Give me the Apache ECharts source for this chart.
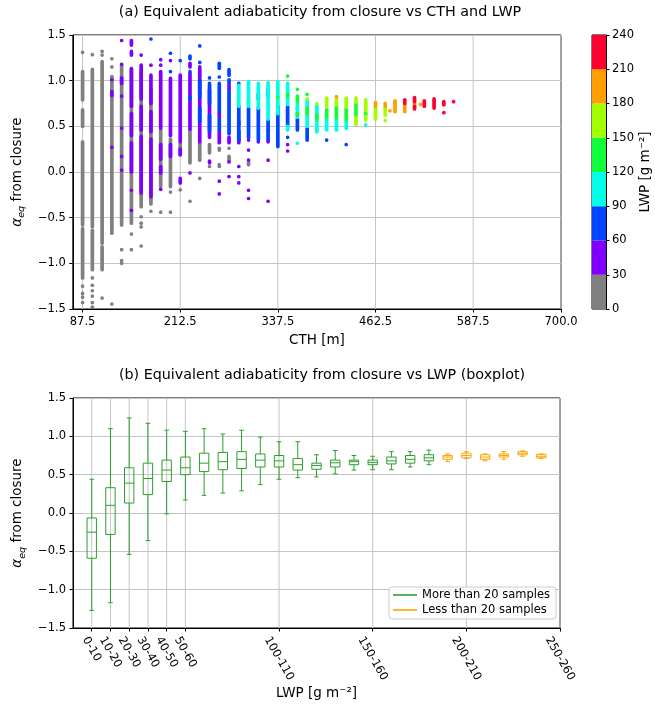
<!DOCTYPE html>
<html>
<head>
<meta charset="utf-8">
<script src="https://cdn.jsdelivr.net/npm/echarts@6/dist/echarts.min.js"></script>
<style>
html, body { margin: 0; padding: 0; background: #fff; }
#main { width: 655px; height: 710px; }
</style>
</head>
<body>
<div id="main"></div>
<script>
// ---- panel (a): colour bar edges, LWP [g m-2]
var lwpEdges = [0, 30, 60, 90, 120, 150, 180, 210, 240];
var cthTicks = [87.5, 212.5, 337.5, 462.5, 587.5, 700];
var alphaRange = [-1.5, 1.5];

// runs of overlapping dots, one array per LWP class: [CTH, alpha low, alpha high]
var lwp0to30 = [
  [87.5,1.31,1.31],[87.5,0.79,1.10],[87.5,0.50,0.68],[87.5,-0.58,0.33],[87.5,-1.16,-0.62],[87.5,-1.25,-1.25],[87.5,-1.33,-1.33],[87.5,-1.37,-1.37],[87.5,-1.43,-1.43],
  [100,1.285,1.285],[100,-0.60,1.125],[100,-1.07,-0.64],[100,-1.16,-1.16],[100,-1.24,-1.24],[100,-1.30,-1.30],[100,-1.36,-1.36],[100,-1.43,-1.43],[100,-1.48,-1.48],
  [112.5,1.32,1.32],[112.5,1.28,1.28],[112.5,-0.78,1.21],[112.5,-1.07,-0.82],[112.5,-1.38,-1.38],
  [125,1.24,1.24],[125,1.15,1.15],[125,-0.67,1.045],[125,-1.445,-1.445],
  [137.5,-0.58,1.17],[137.5,-0.85,-0.85],[137.5,-0.97,-0.97],[137.5,-1.0,-1.0],
  [150,-0.56,1.135],[150,-0.68,-0.68],[150,-0.85,-0.85],
  [162.5,-0.38,1.10],[162.5,-0.49,-0.49],[162.5,-0.56,-0.56],[162.5,-0.60,-0.60],[162.5,-0.81,-0.81],
  [175,-0.35,0.90],[175,-0.43,-0.43],
  [187.5,-0.16,0.46],[187.5,-0.44,-0.44],
  [200,-0.16,0.36],[200,-0.22,-0.22],[200,-0.44,-0.44],
  [212.5,0.19,0.31],[212.5,-0.195,-0.195],
  [225,0.10,0.46],[225,-0.32,-0.32],
  [237.5,0.13,0.32],[237.5,-0.07,-0.07],
  [250,0.21,0.30],[250,0.06,0.06],
  [262.5,0.06,0.08],[262.5,0.24,0.26],
  [275,0.13,0.17],[275,0.26,0.26],
  [300,0.08,0.10]
];
var lwp30to60 = [
  [125,1.01,1.01],[125,0.84,0.88],[125,0.27,0.27],
  [137.5,1.44,1.44],[137.5,1.18,1.18],[137.5,0.97,1.03],[137.5,0.83,0.83],[137.5,0.48,0.48],[137.5,0.17,0.17],[137.5,0.02,0.02],
  [150,1.39,1.44],[150,1.28,1.32],[150,0.72,1.13],[150,0.40,0.64],[150,0.0,0.32],[150,-0.20,-0.20],[150,-0.42,-0.42],
  [162.5,1.28,1.28],[162.5,0.80,1.17],[162.5,0.46,0.72],[162.5,-0.23,0.39],
  [175,1.17,1.17],[175,0.75,1.06],[175,0.44,0.66],[175,-0.27,0.36],
  [187.5,1.23,1.23],[187.5,1.17,1.17],[187.5,0.48,1.10],[187.5,0.14,0.30],[187.5,-0.01,0.06],[187.5,-0.19,-0.19],
  [200,1.22,1.22],[200,0.40,1.025],[200,0.17,0.30],
  [212.5,0.33,1.06],[212.5,0.19,0.25],[212.5,-0.12,-0.07],
  [225,1.15,1.19],[225,0.47,1.08],[225,-0.01,-0.01],
  [237.5,0.33,1.15],
  [250,0.38,0.90],[250,0.10,0.12],
  [262.5,0.32,0.45],[262.5,0.60,0.65],[262.5,-0.10,-0.10],[262.5,-0.24,-0.24],
  [275,0.90,0.95],[275,0.32,0.38],[275,0.11,0.11],[275,-0.05,-0.05],
  [287.5,0.32,0.45],[287.5,0.52,0.55],[287.5,0.06,0.06],[287.5,-0.05,-0.05],[287.5,-0.12,-0.12],
  [300,0.35,0.35],[300,0.24,0.24],[300,0.13,0.13],[300,-0.20,-0.20],[300,-0.29,-0.29],
  [312.5,0.33,0.33],
  [325,0.46,0.46],[325,0.33,0.35],[325,0.13,0.13],[325,-0.32,-0.32],
  [350,0.30,0.30],[350,0.23,0.23]
];
var lwp60to90 = [
  [175,1.456,1.456],
  [200,1.30,1.30],[200,1.10,1.10],
  [212.5,1.22,1.22],
  [225,1.24,1.27],[225,1.10,1.10],[225,0.80,0.82],
  [237.5,1.38,1.38],[237.5,1.20,1.20],[237.5,0.82,1.0],[237.5,0.55,0.70],
  [250,1.03,1.03],[250,0.75,0.97],[250,0.45,0.62],
  [262.5,1.135,1.19],[262.5,1.04,1.04],[262.5,0.66,0.97],[262.5,0.46,0.58],
  [275,1.06,1.12],[275,0.42,0.88],[275,0.97,1.01],
  [287.5,0.35,0.72],[287.5,0.97,0.97],
  [300,0.38,0.70],
  [312.5,0.35,0.70],[312.5,0.80,0.85],
  [325,0.83,0.90],[325,0.36,0.57],
  [337.5,0.28,0.72],
  [350,0.50,0.72],[350,0.38,0.38],
  [362.5,0.46,0.58],[362.5,0.70,0.70],
  [375,0.35,0.48],
  [400,0.35,0.35],
  [425,0.30,0.30]
];
var lwp90to120 = [
  [287.5,0.72,0.95],[300,0.72,0.99],[312.5,0.70,0.97],[325,0.58,0.98],[337.5,0.64,0.99],
  [350,0.74,0.97],[350,0.46,0.50],
  [362.5,0.60,0.75],[362.5,0.315,0.315],
  [375,0.50,0.79],[387.5,0.44,0.72],[400,0.46,0.59],[412.5,0.46,0.57],[425,0.48,0.55],
  [437.5,0.55,0.55],[450,0.515,0.515]
];
var lwp120to150 = [
  [337.5,0.82,0.82],
  [350,1.05,1.05],[350,0.83,0.85],
  [362.5,0.905,0.905],[362.5,0.77,0.83],[362.5,0.62,0.64],
  [375,0.85,0.85],[375,0.64,0.70],
  [387.5,0.58,0.62],[400,0.60,0.68],[412.5,0.59,0.72],[425,0.57,0.70],[437.5,0.61,0.75],[450,0.62,0.66]
];
var lwp150to180 = [
  [375,0.80,0.80],[387.5,0.75,0.75],[400,0.72,0.81],[412.5,0.73,0.80],[425,0.71,0.81],
  [437.5,0.76,0.81],[437.5,0.52,0.60],
  [450,0.67,0.79],[450,0.57,0.61],
  [462.5,0.58,0.71],
  [475,0.625,0.70],[475,0.563,0.563]
];
var lwp180to210 = [
  [412.5,0.825,0.825],[462.5,0.72,0.76],[475,0.72,0.75],[481,0.67,0.67],
  [487.5,0.66,0.78],[500,0.66,0.73],[512.5,0.73,0.75],[520,0.74,0.74]
];
var lwp210to240 = [
  [500,0.75,0.79],
  [512.5,0.77,0.815],[512.5,0.69,0.72],
  [525,0.72,0.78],[537.5,0.70,0.80],
  [550,0.735,0.77],[550,0.65,0.65],
  [562.5,0.77,0.77]
];

// ---- panel (b): boxplot per LWP bin
var lwpBins = ['0-10','10-20','20-30','30-40','40-50','50-60','60-70','70-80','80-90','90-100',
  '100-110','110-120','120-130','130-140','140-150','150-160','160-170','170-180','180-190',
  '190-200','200-210','210-220','220-230','230-240','240-250'];
var whiskerLow  = [-1.27,-1.17,-0.54,-0.36,-0.01,0.17,0.23,0.26,0.29,0.37,0.44,0.46,0.47,0.51,0.56,0.565,0.565,0.60,0.63,0.67,0.71,0.68,0.70,0.74,0.71];
var quartile1   = [-0.59,-0.28,0.13,0.24,0.41,0.50,0.54,0.565,0.58,0.60,0.60,0.56,0.57,0.60,0.63,0.63,0.64,0.65,0.68,0.70,0.72,0.70,0.73,0.76,0.72];
var medianVal   = [-0.25,0.10,0.39,0.45,0.56,0.59,0.65,0.67,0.70,0.69,0.68,0.63,0.62,0.655,0.67,0.66,0.68,0.70,0.72,0.73,0.75,0.73,0.75,0.78,0.74];
var quartile3   = [-0.065,0.33,0.59,0.65,0.69,0.73,0.78,0.79,0.80,0.77,0.75,0.71,0.65,0.69,0.69,0.69,0.73,0.75,0.76,0.75,0.78,0.76,0.77,0.80,0.765];
var whiskerHigh = [0.44,1.10,1.24,1.17,1.08,1.065,1.10,1.03,1.08,0.99,0.93,0.93,0.76,0.815,0.75,0.74,0.80,0.80,0.82,0.77,0.80,0.77,0.80,0.81,0.77];
var fewSamples  = [false,false,false,false,false,false,false,false,false,false,false,false,false,false,false,false,false,false,false,true,true,true,true,true,true];
var lwpTickPos    = [0, 1, 2, 3, 4, 5, 10, 15, 20, 25];
var lwpTickLabels = ['0-10','10-20','20-30','30-40','40-50','50-60','100-110','150-160','200-210','250-260'];

var FONT = 'DejaVu Sans';
var TICK_FS = 11.5;
var DOT = 3.7;
var BOX_WIDTH = 0.5;
var binColors = ['#808080', '#7f00ff', '#0044ff', '#00ffe6', '#10ff3a', '#a2ff00', '#ffa000', '#ff0030'];
var GREEN = '#2ca02c', ORANGE = '#ffa500', GRID_GRAY = '#c4c4c4';

function alphaFmt(v) {
  return v < 0 ? '\u2212' + Math.abs(v).toFixed(1) : v.toFixed(1);
}

function runRenderer(color) {
  return function (params, api) {
    var hi = api.coord([api.value(0), api.value(2)]);
    var lo = api.coord([api.value(0), api.value(1)]);
    return {
      type: 'rect',
      shape: { x: hi[0] - DOT / 2, y: hi[1] - DOT / 2, width: DOT, height: lo[1] - hi[1] + DOT, r: DOT / 2 },
      style: { fill: color }
    };
  };
}

// vertical grid line at a tick, spanning the y range
function vGridRenderer(params, api) {
  var a = api.coord([api.value(0), api.value(1)]);
  var b = api.coord([api.value(0), api.value(2)]);
  return { type: 'line', shape: { x1: a[0], y1: a[1], x2: b[0], y2: b[1] }, style: { stroke: GRID_GRAY, lineWidth: 1 } };
}

function boxRenderer(color) {
  return function (params, api) {
    var x = api.value(0);
    var c = api.coord([x, api.value(3)]);
    var halfBox = api.coord([x + BOX_WIDTH / 2, 0])[0] - c[0];
    var halfCap = halfBox / 2;
    var yLow = api.coord([x, api.value(1)])[1];
    var yQ1 = api.coord([x, api.value(2)])[1];
    var yQ3 = api.coord([x, api.value(4)])[1];
    var yHigh = api.coord([x, api.value(5)])[1];
    var st = { stroke: color, lineWidth: 1, fill: 'none' };
    function seg(x1, y1, x2, y2) {
      return { type: 'line', shape: { x1: x1, y1: y1, x2: x2, y2: y2 }, style: st };
    }
    return {
      type: 'group',
      children: [
        { type: 'rect', shape: { x: c[0] - halfBox, y: yQ3, width: 2 * halfBox, height: yQ1 - yQ3 }, style: st },
        seg(c[0] - halfBox, c[1], c[0] + halfBox, c[1]),
        seg(c[0], yQ1, c[0], yLow),
        seg(c[0], yQ3, c[0], yHigh),
        seg(c[0] - halfCap, yLow, c[0] + halfCap, yLow),
        seg(c[0] - halfCap, yHigh, c[0] + halfCap, yHigh)
      ]
    };
  };
}

// box data split by sample size
var manyData = [], fewData = [];
lwpBins.forEach(function (b, i) {
  var row = [i, whiskerLow[i], quartile1[i], medianVal[i], quartile3[i], whiskerHigh[i]];
  (fewSamples[i] ? fewData : manyData).push(row);
});

// rotated tick labels of panel (b): centre each rotated label under its tick
var tickRich = {};
lwpTickLabels.forEach(function (lab, i) {
  var digits = lab.replace(/[^0-9]/g, '').length;
  var L = (digits * 0.636 + (lab.length - digits) * 0.361) * TICK_FS;
  var pt = 0.25 * TICK_FS + 0.433 * L;
  tickRich['t' + i] = { padding: [pt, 0, 0, 1.732 * pt], fontSize: TICK_FS, fontFamily: FONT, color: '#000' };
});

var yName = '{g|\u03b1}{s|eq}{a| from closure}';
var yNameStyle = {
  fontFamily: FONT, color: '#000',
  rich: {
    g: { fontSize: 13.5, lineHeight: 18, fontStyle: 'italic', fontFamily: FONT, color: '#000' },
    a: { fontSize: 13.5, lineHeight: 18, fontFamily: FONT, color: '#000' },
    s: { fontSize: 9.5, lineHeight: 10, fontStyle: 'italic', verticalAlign: 'top', padding: [9, 0, 0, 0], fontFamily: FONT, color: '#000' }
  }
};

var axisLineStyle = { show: true, onZero: false, lineStyle: { color: '#000', width: 1 } };
var tickStyle = { show: true, length: 3.5, lineStyle: { color: '#000', width: 1 } };
var gridLine = { show: true, lineStyle: { color: GRID_GRAY, width: 1 } };
var labelStyle = { fontFamily: FONT, fontSize: TICK_FS, color: '#000' };

var series = [];
series.push({
  type: 'custom', xAxisIndex: 0, yAxisIndex: 0, silent: true, z: 1,
  data: cthTicks.map(function (t) { return [t, alphaRange[0], alphaRange[1]]; }),
  encode: { x: 0, y: [1, 2] }, renderItem: vGridRenderer
});
series.push({
  type: 'custom', xAxisIndex: 2, yAxisIndex: 2, silent: true, z: 1,
  data: lwpTickPos.map(function (t) { return [t, alphaRange[0], alphaRange[1]]; }),
  encode: { x: 0, y: [1, 2] }, renderItem: vGridRenderer
});
[lwp0to30, lwp30to60, lwp60to90, lwp90to120, lwp120to150, lwp150to180, lwp180to210, lwp210to240].forEach(function (arr, i) {
  series.push({
    type: 'custom', name: 'LWP ' + lwpEdges[i] + '-' + lwpEdges[i + 1],
    xAxisIndex: 0, yAxisIndex: 0, data: arr,
    encode: { x: 0, y: [1, 2] },
    renderItem: runRenderer(binColors[i]),
    z: 2 + i, silent: true
  });
});
for (var i = 0; i < lwpEdges.length - 1; i++) {
  series.push({
    type: 'bar', xAxisIndex: 1, yAxisIndex: 1, stack: 'cbar', barWidth: '100%',
    data: [lwpEdges[i + 1] - lwpEdges[i]],
    itemStyle: { color: binColors[i] }, silent: true
  });
}
series.push({
  type: 'custom', name: 'More than 20 samples', xAxisIndex: 2, yAxisIndex: 2,
  data: manyData, encode: { x: 0, y: [1, 2, 3, 4, 5] },
  renderItem: boxRenderer(GREEN), itemStyle: { color: GREEN }, z: 3
});
series.push({
  type: 'custom', name: 'Less than 20 samples', xAxisIndex: 2, yAxisIndex: 2,
  data: fewData, encode: { x: 0, y: [1, 2, 3, 4, 5] },
  renderItem: boxRenderer(ORANGE), itemStyle: { color: ORANGE }, z: 3
});

var chart = echarts.init(document.getElementById('main'));
chart.setOption({
  animation: false,
  backgroundColor: '#fff',
  textStyle: { fontFamily: FONT },
  title: [
    { text: '(a) Equivalent adiabaticity from closure vs CTH and LWP', left: 315, textAlign: 'center', top: 0,
      textStyle: { fontFamily: FONT, fontSize: 14.3, fontWeight: 'normal', color: '#000' } },
    { text: '(b) Equivalent adiabaticity from closure vs LWP (boxplot)', left: 317, textAlign: 'center', top: 363,
      textStyle: { fontFamily: FONT, fontSize: 14.3, fontWeight: 'normal', color: '#000' } }
  ],
  legend: {
    data: ['More than 20 samples', 'Less than 20 samples'],
    orient: 'vertical', left: 389, top: 587,
    icon: 'rect', itemWidth: 24, itemHeight: 1.6, itemGap: 3,
    padding: [2, 6, 3, 4],
    backgroundColor: 'rgba(255,255,255,0.85)', borderColor: '#cccccc', borderWidth: 1, borderRadius: 3,
    textStyle: { fontFamily: FONT, fontSize: TICK_FS, color: '#000' }
  },
  grid: [
    { left: 68, top: 35, width: 493, height: 274, show: true, borderColor: '#000', borderWidth: 1 },
    { left: 592, top: 35, width: 14, height: 274, show: true, borderColor: '#000', borderWidth: 1 },
    { left: 73, top: 398, width: 487, height: 230, show: true, borderColor: '#000', borderWidth: 1 }
  ],
  xAxis: [
    { type: 'value', gridIndex: 0, min: 75, max: 700,
      name: 'CTH [m]', nameLocation: 'middle', nameGap: 24,
      nameTextStyle: { fontFamily: FONT, fontSize: 13.5, color: '#000' },
      axisLine: axisLineStyle, axisTick: Object.assign({ customValues: cthTicks }, tickStyle),
      axisLabel: Object.assign({ customValues: cthTicks, margin: 7, formatter: function (v) { return v.toFixed(1); } }, labelStyle),
      splitLine: { show: false } },
    { type: 'category', gridIndex: 1, data: ['LWP'], show: false },
    { type: 'value', gridIndex: 2, min: -1, max: 25,
      name: 'LWP [g m\u207b\u00b2]', nameLocation: 'middle', nameGap: 58,
      nameTextStyle: { fontFamily: FONT, fontSize: 13.5, color: '#000' },
      axisLine: axisLineStyle, axisTick: Object.assign({ customValues: lwpTickPos }, tickStyle),
      axisLabel: { customValues: lwpTickPos, rotate: -60, align: 'center', verticalAlign: 'middle', margin: 7,
        fontFamily: FONT, fontSize: TICK_FS, color: '#000', rich: tickRich,
        formatter: function (v) {
          var k = lwpTickPos.indexOf(v);
          return k < 0 ? '' : '{t' + k + '|' + lwpTickLabels[k] + '}';
        } },
      splitLine: { show: false } }
  ],
  yAxis: [
    { type: 'value', gridIndex: 0, min: alphaRange[0], max: alphaRange[1], interval: 0.5,
      name: yName, nameLocation: 'middle', nameGap: 41, nameTextStyle: yNameStyle,
      axisLine: axisLineStyle, axisTick: tickStyle,
      axisLabel: Object.assign({ margin: 7, formatter: alphaFmt }, labelStyle),
      splitLine: gridLine },
    { type: 'value', gridIndex: 1, min: 0, max: 240, interval: 30, position: 'right',
      name: 'LWP [g m\u207b\u00b2]', nameLocation: 'middle', nameGap: 32, nameRotate: 90,
      nameTextStyle: { fontFamily: FONT, fontSize: 13.5, color: '#000' },
      axisLine: axisLineStyle, axisTick: tickStyle,
      axisLabel: Object.assign({ margin: 6 }, labelStyle),
      splitLine: { show: false } },
    { type: 'value', gridIndex: 2, min: alphaRange[0], max: alphaRange[1], interval: 0.5,
      name: yName, nameLocation: 'middle', nameGap: 41, nameTextStyle: yNameStyle,
      axisLine: axisLineStyle, axisTick: tickStyle,
      axisLabel: Object.assign({ margin: 7, formatter: alphaFmt }, labelStyle),
      splitLine: gridLine }
  ],
  series: series
});
</script>
</body>
</html>
